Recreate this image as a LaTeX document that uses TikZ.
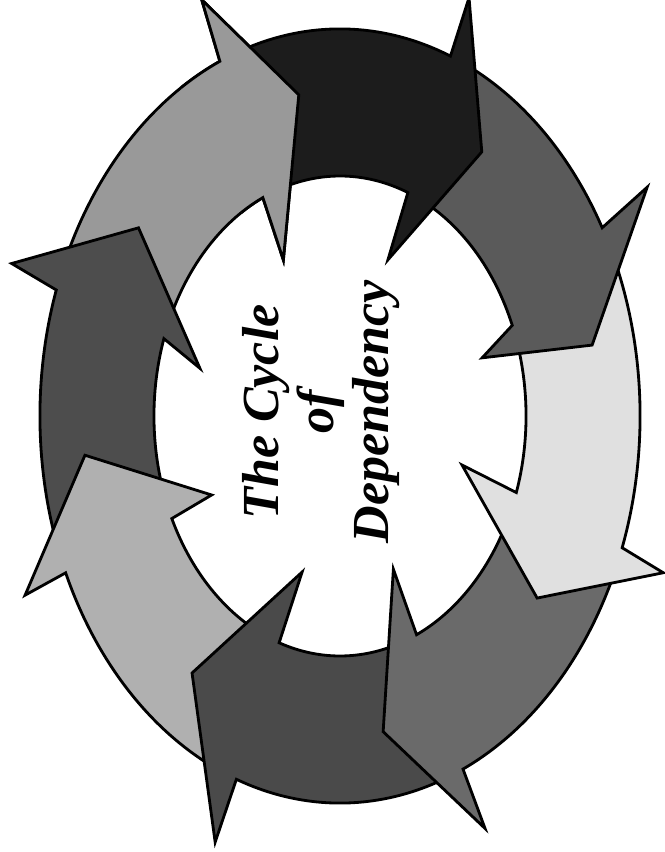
\documentclass[tikz,border=0pt]{standalone}
\usepackage{fontspec}
\setmainfont{Liberation Serif}
\usepackage{xcolor}

\definecolor{corTopo}{HTML}{1C1C1C}
\definecolor{corDirSup}{HTML}{5A5A5A}
\definecolor{corDir}{HTML}{E0E0E0}
\definecolor{corDirInf}{HTML}{6A6A6A}
\definecolor{corBase}{HTML}{4A4A4A}
\definecolor{corEsqInf}{HTML}{B0B0B0}
\definecolor{corEsq}{HTML}{4D4D4D}
\definecolor{corEsqSup}{HTML}{999999}

% Seta da esquerda superior (usada duas vezes)
\newcommand{\setaEsqSup}{(202:1) arc[start angle=202, end angle=246.4, radius=1] -- (246.8:1.17) -- (260.6:0.841) -- (244.9:0.445) -- (245.5:0.62) arc[start angle=245.5, end angle=202, radius=0.62] -- cycle}

\begin{document}
\begin{tikzpicture}[x=0.025cm, y=-0.025cm,
  seta/.style={draw=black, line width=2pt, line join=miter, miter limit=20},
  texto/.style={font=\fontsize{37}{39}\selectfont\bfseries\itshape, align=center, inner sep=0pt}]

% Moldura
\useasboundingbox (0,0) rectangle (664,852);

\begin{scope}[shift={(340,416)}, x=7.5cm, y=-9.675cm]

% Seta esquerda superior
\draw[seta, fill=corEsqSup] \setaEsqSup;

% Seta esquerda
\draw[seta, fill=corEsq] (159:1) arc[start angle=159, end angle=199, radius=1] -- (199.8:1.163) -- (215.9:0.829) -- (194.8:0.483) -- (198.8:0.62) arc[start angle=198.8, end angle=159, radius=0.62] -- cycle;

% Seta esquerda inferior
\draw[seta, fill=corEsqInf] (113:1) arc[start angle=113, end angle=156.1, radius=1] -- (156.2:1.147) -- (173.2:0.856) -- (154.5:0.474) -- (154.7:0.62) arc[start angle=154.7, end angle=113, radius=0.62] -- cycle;

% Seta de baixo
\draw[seta, fill=corBase] (68.7:1) arc[start angle=68.7, end angle=110.2, radius=1] -- (110.7:1.177) -- (126.6:0.827) -- (107.4:0.4225) -- (109.1:0.62) arc[start angle=109.1, end angle=68.7, radius=0.62] -- cycle;

% Seta direita inferior
\draw[seta, fill=corDirInf] (23:1) arc[start angle=23, end angle=65.8, radius=1] -- (65.6:1.17) -- (80:0.828) -- (65.8:0.434) -- (65.7:0.62) arc[start angle=65.7, end angle=21.6, radius=0.62] -- cycle;

% Seta direita (clara)
\draw[seta, fill=corDir] (-26:1) arc[start angle=-26, end angle=19.9, radius=1] -- (20.6:1.151) -- (35.6:0.808) -- (17.3:0.426) -- (18.6:0.62) arc[start angle=18.6, end angle=-19, radius=0.62] -- cycle;

% Seta direita superior
\draw[seta, fill=corDirSup] (-65.5:1) arc[start angle=-65.5, end angle=-29.1, radius=1] -- (-30:1.182) -- (-12.3:0.86) -- (-17.6:0.497) -- (-22.2:0.62) arc[start angle=-22.2, end angle=-65.5, radius=0.62] -- cycle;

% Seta do topo (preta)
\draw[seta, fill=corTopo] (-111:1) arc[start angle=-111, end angle=-68.4, radius=1] -- (-68.3:1.163) -- (-55.3:0.83) -- (-68.4:0.434) -- (-68.6:0.62) arc[start angle=-68.6, end angle=-111, radius=0.62] -- cycle;

% Ponta da seta esquerda superior por cima da cauda da preta
\begin{scope}
\clip (0,0) -- (238:1.5) -- (275:1.5) -- cycle;
\draw[seta, fill=corEsqSup] \setaEsqSup;
\end{scope}

\end{scope}

% Titulo
\node[texto, rotate=90] (titulo) at (321,412) {The Cycle\\of\\Dependency};

\end{tikzpicture}
\end{document}
